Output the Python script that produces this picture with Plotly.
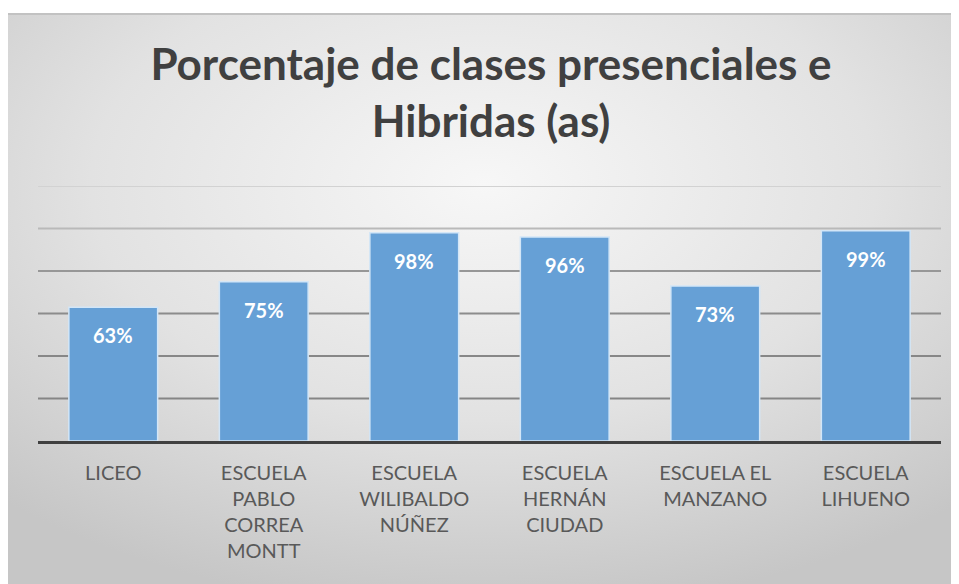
import base64
import plotly.graph_objects as go

# datos
escuelas = [
    "LICEO",
    "ESCUELA<br>PABLO<br>CORREA<br>MONTT",
    "ESCUELA<br>WILIBALDO<br>NÚÑEZ",
    "ESCUELA<br>HERNÁN<br>CIUDAD",
    "ESCUELA EL<br>MANZANO",
    "ESCUELA<br>LIHUENO",
]
porcentajes = [63, 75, 98, 96, 73, 99]
etiquetas = [f"{p}%" for p in porcentajes]

grid_ticks = [20, 40, 60, 80, 100, 120]
grid_colors = ["#858585", "#878787", "#8c8c8c", "#979797", "#b9b9b9", "#d2d2d2"]

# la pagina tiene 8px de margen en el body
W, H = 951, 576
M = dict(l=30, r=18, t=178, b=143)
pw = W - M["l"] - M["r"]
ph = H - M["t"] - M["b"]

# fondo gris con degradado radial (como en Excel)
svg = """<svg xmlns='http://www.w3.org/2000/svg' width='951' height='571' viewBox='0 0 951 571' preserveAspectRatio='none'>
<defs><radialGradient id='g' cx='50%' cy='30%' r='75%'>
<stop offset='0%' stop-color='#f7f7f7'/><stop offset='55%' stop-color='#e2e2e2'/><stop offset='100%' stop-color='#c6c6c6'/>
</radialGradient></defs>
<rect width='951' height='571' fill='url(#g)'/>
<rect width='951' height='2' fill='#c2c2c2'/>
</svg>"""
bg_src = "data:image/svg+xml;base64," + base64.b64encode(svg.encode()).decode()

fig = go.Figure()
fig.add_trace(go.Bar(
    x=escuelas, y=porcentajes,
    marker=dict(color="#66a0d6", line=dict(color="#d3e6f7", width=1.5)),
    hoverinfo="skip",
))

for t, c in zip(grid_ticks, grid_colors):
    fig.add_hline(y=t, line=dict(color=c, width=2), layer="below")

for x, y, txt in zip(escuelas, porcentajes, etiquetas):
    fig.add_annotation(x=x, y=y, text=txt, showarrow=False, yanchor="top", yshift=-14,
                       font=dict(family="Lato", size=20, color="white", weight="bold"))

fig.add_layout_image(
    source=bg_src, xref="paper", yref="paper",
    x=-M["l"] / pw, y=(H - M["b"] - 5) / ph,
    sizex=W / pw, sizey=(H - 5) / ph,
    xanchor="left", yanchor="top", sizing="stretch", layer="below",
)

fig.update_layout(
    width=W, height=H, margin=M,
    paper_bgcolor="white", plot_bgcolor="rgba(0,0,0,0)",
    showlegend=False, bargap=0.41,
    title=dict(text="Porcentaje de clases presenciales e<br>Hibridas (as)",
               x=(483 - M["l"]) / pw, xref="paper", xanchor="center",
               y=1 - 72 / H, yanchor="middle",
               font=dict(family="Lato", size=44, color="#404040", weight="bold")),
    xaxis=dict(showline=True, linecolor="#404040", linewidth=3, showgrid=False,
               ticks="", ticklabelstandoff=12,
               tickfont=dict(family="Lato", size=20, color="#595959")),
    yaxis=dict(range=[0, 120], showgrid=False, zeroline=False, showticklabels=False),
)

fig.write_html("out.html")
